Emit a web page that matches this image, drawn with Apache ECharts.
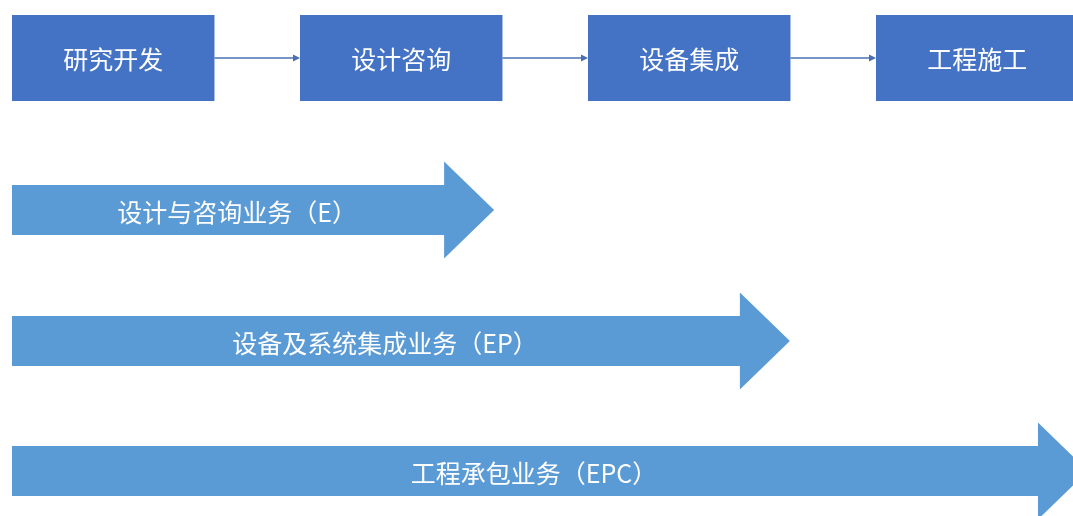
<!DOCTYPE html>
<html><head><meta charset="utf-8">
<script src="https://cdn.jsdelivr.net/npm/echarts@6/dist/echarts.min.js"></script>
<style>html,body{margin:0;padding:0;background:#fff}#c{width:1073px;height:516px}</style>
</head><body><div id="c"></div>
<script>
// ---- data ----
const stages = ['研究开发', '设计咨询', '设备集成', '工程施工'];
const businesses = ['设计与咨询业务（E）', '设备及系统集成业务（EP）', '工程承包业务（EPC）'];
const businessStart = [0, 0, 0];          // in stage units
const businessEnd = [1.674, 2.701, 3.736]; // arrow tip, in stage units

// ---- layout / style ----
const STAGE_PITCH = 288; // px per stage unit
const BOX_W = 0.703;
const STAGE_Y = 58, BOX_HALF = 43;
const ARROW_Y = [210, 341, 471];
const BODY_HALF = 25, HEAD_HALF = 48.5, HEAD_LEN = 50;
const BOX_COLOR = '#4472C4', ARROW_COLOR = '#5B9BD5', LINK_COLOR = '#4a70b4';
const FONT = '"Noto Sans CJK SC", sans-serif';
const FS = 25;

const chart = echarts.init(document.getElementById('c'), null, {renderer: 'canvas'});

function boxItem(params, api) {
  const i = api.value(0);
  const p0 = api.coord([i, STAGE_Y - BOX_HALF]);
  const p1 = api.coord([i + BOX_W, STAGE_Y + BOX_HALF]);
  return {
    type: 'group',
    children: [
      {type: 'rect', shape: {x: p0[0], y: p0[1], width: p1[0] - p0[0], height: p1[1] - p0[1]},
       style: {fill: BOX_COLOR}},
      {type: 'text', style: {text: stages[i], x: (p0[0] + p1[0]) / 2, y: (p0[1] + p1[1]) / 2 + 1,
        fill: '#fff', fontSize: FS, fontFamily: FONT, align: 'center', verticalAlign: 'middle',
        textAlign: 'center', textVerticalAlign: 'middle'}}
    ]
  };
}

function linkItem(params, api) {
  const i = api.value(0);
  const a = api.coord([i + BOX_W, STAGE_Y]);
  const b = api.coord([i + 1, STAGE_Y]);
  return {
    type: 'group',
    children: [
      {type: 'line', shape: {x1: a[0], y1: a[1], x2: b[0] - 5, y2: b[1]},
       style: {stroke: LINK_COLOR, lineWidth: 1.6}},
      {type: 'polygon', shape: {points: [[b[0] - 7, b[1] - 3.5], [b[0], b[1]], [b[0] - 7, b[1] + 3.5]]},
       style: {fill: LINK_COLOR}}
    ]
  };
}

function arrowItem(params, api) {
  const s = api.value(0), e = api.value(1), k = api.value(2);
  const y = ARROW_Y[k];
  const left = api.coord([s, y]);
  const tip = api.coord([e, y]);
  const x0 = left[0], x1 = tip[0], cy = tip[1];
  const hx = x1 - HEAD_LEN;
  const pts = [[x0, cy - BODY_HALF], [hx, cy - BODY_HALF], [hx, cy - HEAD_HALF], [x1, cy],
               [hx, cy + HEAD_HALF], [hx, cy + BODY_HALF], [x0, cy + BODY_HALF]];
  return {
    type: 'group',
    children: [
      {type: 'polygon', shape: {points: pts}, style: {fill: ARROW_COLOR}},
      {type: 'text', style: {text: businesses[k], x: (x0 + hx) / 2 + 9, y: cy + 2,
        fill: '#fff', fontSize: FS, fontFamily: FONT, align: 'center', verticalAlign: 'middle',
        textAlign: 'center', textVerticalAlign: 'middle'}}
    ]
  };
}

chart.setOption({
  animation: false,
  grid: {left: 12, top: 0, right: 0, bottom: 0},
  xAxis: {type: 'value', min: 0, max: (1073 - 12) / STAGE_PITCH, show: false},
  yAxis: {type: 'value', min: 0, max: 516, inverse: true, show: false},
  series: [
    {type: 'custom', renderItem: linkItem, clip: false,
     data: stages.slice(0, -1).map((s, i) => [i])},
    {type: 'custom', renderItem: boxItem, clip: false,
     data: stages.map((s, i) => [i])},
    {type: 'custom', renderItem: arrowItem, clip: false,
     data: businesses.map((b, i) => [businessStart[i], businessEnd[i], i])}
  ]
});
</script></body></html>
